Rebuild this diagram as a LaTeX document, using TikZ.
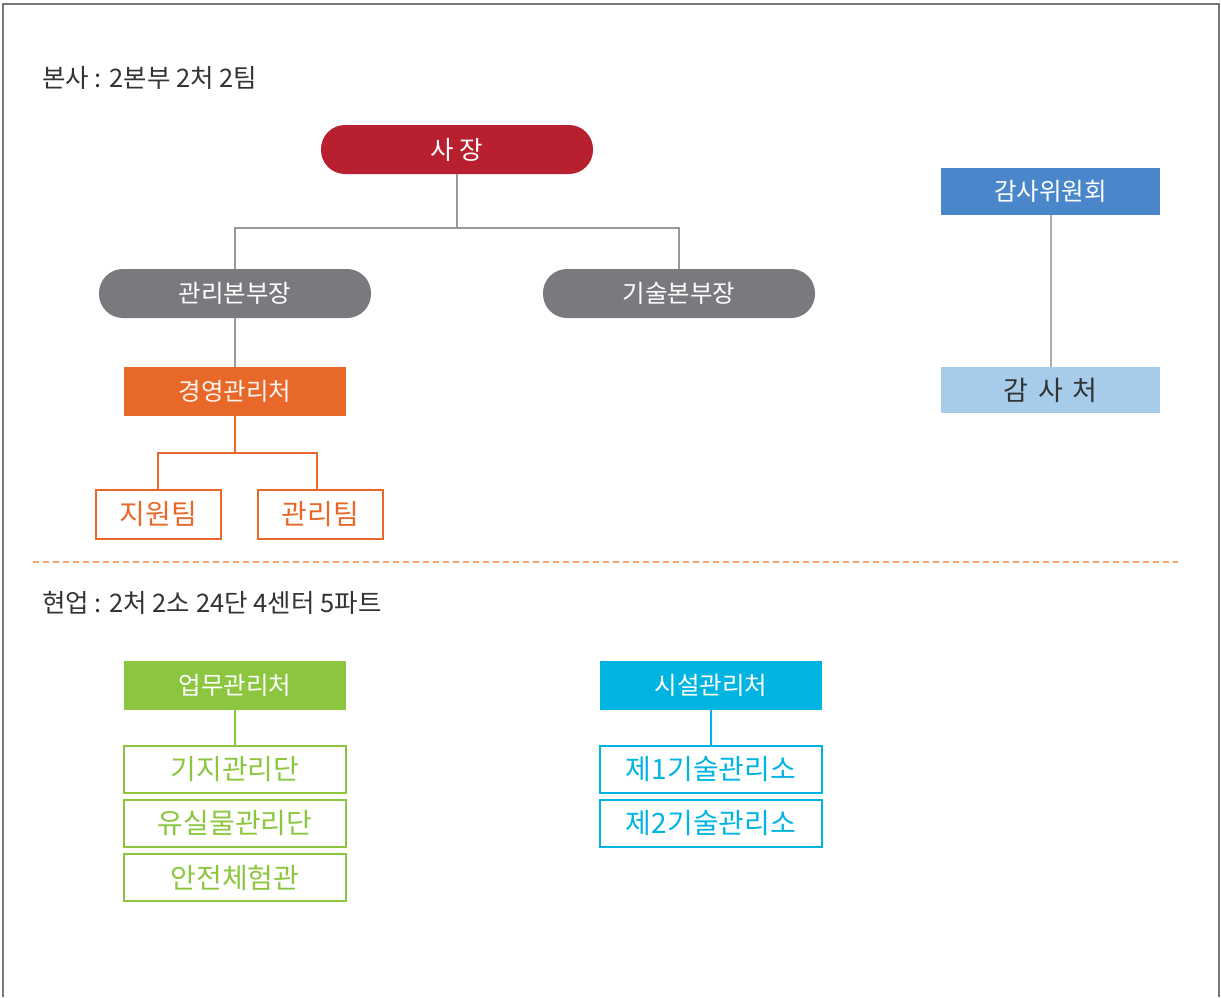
\documentclass[tikz,border=0pt]{standalone}
\usepackage{fontspec}
\setmainfont{Noto Sans CJK KR}
\definecolor{cred}{HTML}{B81F2F}
\definecolor{cgray}{HTML}{7A7A7E}
\definecolor{corange}{HTML}{E8682A}
\definecolor{cblue}{HTML}{4A87CA}
\definecolor{clblue}{HTML}{A7CBEB}
\definecolor{cgreen}{HTML}{8CC63F}
\definecolor{ccyan}{HTML}{00B4E2}
\definecolor{cline}{HTML}{9A9A9A}
\definecolor{cdash}{HTML}{F5A46C}
\definecolor{ctext}{HTML}{333333}
\definecolor{cframe}{HTML}{777777}
\begin{document}
\begin{tikzpicture}[x=1pt,y=-1pt,
  pill/.style={rectangle, rounded corners=24pt, minimum width=272pt, minimum height=49pt, inner sep=0pt, text=white, font=\fontsize{24.5}{24.5}\selectfont},
  solidbox/.style={rectangle, minimum width=222pt, minimum height=49pt, inner sep=0pt, text=white, font=\fontsize{24.5}{24.5}\selectfont},
  outbox/.style={rectangle, draw, line width=1.2pt, fill=white, minimum height=47pt, inner sep=0pt, font=\fontsize{28}{28}\selectfont},
  conn/.style={draw=cline, line width=1.5pt},
  heading/.style={anchor=west, inner sep=0pt, text=ctext, font=\fontsize{25.5}{25.5}\selectfont}
]
\useasboundingbox (0,0) rectangle (1221,997);
\fill[white] (0,0) rectangle (1221,997);
\draw[cframe, line width=1.5pt] (3,997) -- (3,4) -- (1219,4) -- (1219,997);

% headings
\node[heading] (h1) at (42,78) {본사 : 2본부 2처 2팀};
\node[heading] (h2) at (42,603) {현업 : 2처 2소 24단 4센터 5파트};

% top part
\node[pill, fill=cred, font=\fontsize{25.5}{25.5}\selectfont] (ceo) at (457,149.5) {사 장};
\node[pill, fill=cgray] (gm) at (235,293.5) {관리본부장};
\node[pill, fill=cgray] (tm) at (679,293.5) {기술본부장};
\coordinate (j1) at (457,228);
\draw[conn] (ceo.south) -- (ceo.south |- j1);
\draw[conn] (gm.north) -- (gm.north |- j1) -- (tm.north |- j1) -- (tm.north);

\node[solidbox, fill=corange, text=white!80!corange!40] (mgmt) at (235,391.5) {경영관리처};
\draw[conn] (gm.south) -- (mgmt.north);

\node[outbox, draw=corange, text=corange, minimum width=125pt, minimum height=49pt] (t1) at (158.5,514.5) {지원팀};
\node[outbox, draw=corange, text=corange, minimum width=125pt, minimum height=49pt] (t2) at (320.5,514.5) {관리팀};
\coordinate (j2) at (235,453);
\draw[draw=corange, line width=1.5pt] (mgmt.south) -- (j2);
\draw[draw=corange, line width=1.5pt] (t1.north -| 158,0) -- (158,453) -- (317,453) -- (t2.north -| 317,0);

\node[rectangle, fill=cblue, minimum width=219pt, minimum height=47pt, inner sep=0pt, text=white, font=\fontsize{24.5}{24.5}\selectfont] (audc) at (1050.5,191.5) {감사위원회};
\node[rectangle, fill=clblue, minimum width=219pt, minimum height=46pt, inner sep=0pt, text=ctext, font=\fontsize{27}{27}\selectfont] (aud) at (1050.5,390) {감\hspace{0.35em}사\hspace{0.35em}처};
\draw[draw=cline!80, line width=2pt] (audc.south) -- (aud.north);

% divider
\draw[draw=cdash, line width=1.5pt, dash pattern=on 6pt off 4pt] (33,562) -- (1178,562);

% bottom part
\node[solidbox, fill=cgreen] (work) at (235,685.5) {업무관리처};
\node[outbox, draw=cgreen, text=cgreen, minimum width=222pt] (w1) at (235,769.5) {기지관리단};
\node[outbox, draw=cgreen, text=cgreen, minimum width=222pt] (w2) at (235,823.5) {유실물관리단};
\node[outbox, draw=cgreen, text=cgreen, minimum width=222pt] (w3) at (235,877.5) {안전체험관};
\draw[draw=cgreen, line width=1.5pt] (work.south) -- (w1.north);

\node[solidbox, fill=ccyan] (fac) at (711,685.5) {시설관리처};
\node[outbox, draw=ccyan, text=ccyan, minimum width=222pt] (f1) at (711,769.5) {제1기술관리소};
\node[outbox, draw=ccyan, text=ccyan, minimum width=222pt] (f2) at (711,823.5) {제2기술관리소};
\draw[draw=ccyan, line width=1.5pt] (fac.south) -- (f1.north);
\end{tikzpicture}
\end{document}
